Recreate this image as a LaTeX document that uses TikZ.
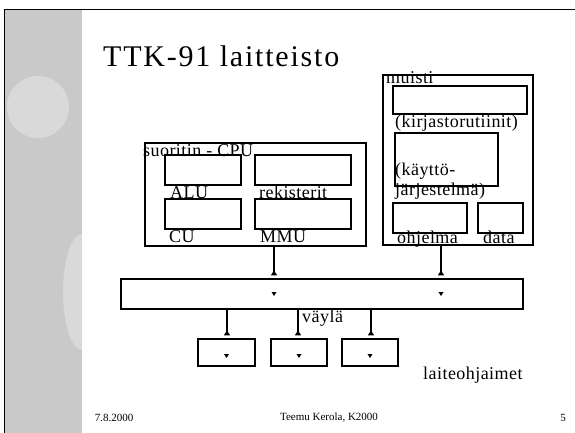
\documentclass[tikz,border=0pt]{standalone}
\usepackage{fontspec}
\setmainfont{Liberation Serif}
\newfontfamily\titlefont[LetterSpace=6]{Liberation Serif}
\newfontfamily\lblfont[LetterSpace=2.5]{Liberation Serif}
\usetikzlibrary{arrows.meta,positioning,calc}
\definecolor{stripegray}{HTML}{C9C9C9}
\definecolor{blobgray}{HTML}{D9D9D9}

\tikzset{
  box/.style={draw, line width=1.2pt, inner sep=0pt, anchor=center},
  lbl/.style={anchor=base west, inner sep=0pt, font=\lblfont\fontsize{18}{20}\selectfont},
  foot/.style={anchor=center, inner sep=0pt, font=\fontsize{11}{13}\selectfont},
  tap/.style={line width=1.2pt, shorten >=3pt, -{Triangle[reversed, width=6pt, length=5pt]}}
}

\begin{document}
\begin{tikzpicture}[x=1pt, y=-1pt]
  \useasboundingbox (0,0) rectangle (575,433);
  \fill[white] (0,0) rectangle (575,433);

  % Left stripe with its blobs
  \fill[stripegray] (5,10) rectangle (82,433);
  \fill[blobgray] (38,107) circle (31);
  \begin{scope}
    \clip (5,10) rectangle (82,433);
    \fill[blobgray] (82,292) ellipse (19 and 58);
  \end{scope}
  \draw[line width=1.5pt] (4.7,433) -- (4.7,9.5) -- (575,9.5);

  % Title
  \node[anchor=base west, inner sep=0pt, font=\titlefont\fontsize{30}{34}\selectfont] (title) at (103,67) {TTK-91 laitteisto};

  % Processor
  \node[box, minimum width=221pt, minimum height=103pt] (cpu) at (255.5,194.5) {};
  \node[box, minimum width=76pt, minimum height=30pt] (alu) at (203,170) {};
  \node[box, minimum width=96pt, minimum height=30pt] (reg) at (303,170) {};
  \node[box, minimum width=76pt, minimum height=30pt] (cu) at (203,214) {};
  \node[box, minimum width=96pt, minimum height=30pt] (mmu) at (303,214) {};
  \node[lbl] (cpulbl) at (143,156) {suoritin - CPU};
  \node[lbl] (alulbl) at (170,198) {ALU};
  \node[lbl] (reglbl) at (259,198) {rekisterit};
  \node[lbl] (culbl) at (169,242) {CU};
  \node[lbl] (mmulbl) at (260,242) {MMU};

  % Memory
  \node[box, minimum width=150pt, minimum height=170pt] (mem) at (458,160) {};
  \node[box, minimum width=134pt, minimum height=28pt] (lib) at (460,100) {};
  \node[box, minimum width=103pt, minimum height=53pt] (os) at (446.5,159.5) {};
  \node[box, minimum width=74pt, minimum height=30pt] (prog) at (430,218) {};
  \node[box, minimum width=45pt, minimum height=30pt] (dat) at (500.5,218) {};
  \node[lbl] (memlbl) at (386,84) {muisti};
  \node[lbl] (liblbl) at (395,128) {(kirjastorutiinit)};
  \node[lbl] (oslbla) at (395,175) {(käyttö-};
  \node[lbl] (oslblb) at (395,195) {järjestelmä)};
  \node[lbl] (proglbl) at (397,243) {ohjelma};
  \node[lbl] (datlbl) at (483,243) {data};

  % Bus and device controllers
  \node[box, minimum width=402pt, minimum height=30pt] (bus) at (322,294) {};
  \node[lbl] (buslbl) at (302,322) {väylä};
  \node[box, minimum width=57pt, minimum height=27pt] (dev1) at (226.5,352.5) {};
  \node[box, minimum width=56pt, minimum height=27pt] (dev2) at (299,352.5) {};
  \node[box, minimum width=56pt, minimum height=27pt] (dev3) at (370,352.5) {};
  \node[lbl] (devlbl) at (423,379) {laiteohjaimet};

  % Connectors
  \coordinate (cpuTap) at (274,0);
  \coordinate (memTap) at (441,0);
  \coordinate (dev1Tap) at (227,0);
  \coordinate (dev2Tap) at (298,0);
  \coordinate (dev3Tap) at (371,0);
  \draw[tap] (cpu.south -| cpuTap) -- (bus.north -| cpuTap);
  \draw[tap] (mem.south -| memTap) -- (bus.north -| memTap);
  \foreach \d in {dev1,dev2,dev3}
    \draw[tap] (bus.south -| \d Tap) -- (\d.north -| \d Tap);

  % Small markers
  \foreach \c in {(bus.center -| cpuTap), (bus.center -| memTap),
                  ([yshift=-3.5pt]dev1.center), ([yshift=-3.5pt]dev2.center), ([yshift=-3.5pt]dev3.center)}
    \fill \c ++(-2.5,-2) -- ++(5,0) -- ++(-2.5,4) -- cycle;

  % Footer
  \node[foot] (date) at (114,418) {7.8.2000};
  \node[foot] (author) at (329,418) {Teemu Kerola, K2000};
  \node[foot] (page) at (563,418) {5};
\end{tikzpicture}
\end{document}
